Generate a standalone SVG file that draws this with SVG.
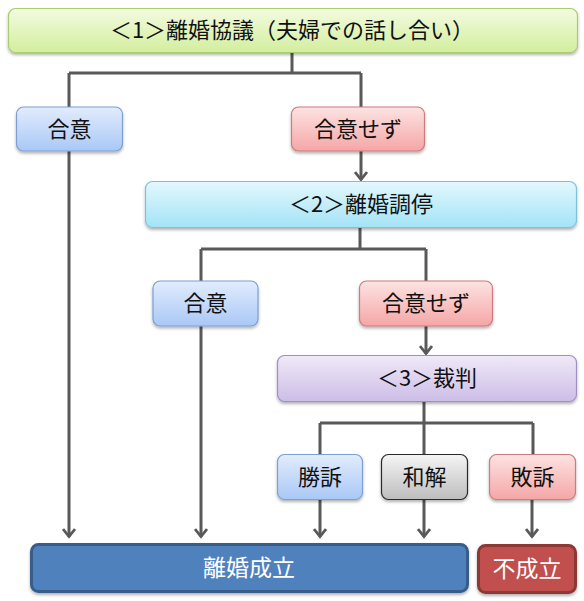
<svg xmlns="http://www.w3.org/2000/svg" width="584" height="601" viewBox="0 0 584 601">
<style>
text{font-family:"Noto Sans CJK JP","Noto Sans",sans-serif;font-size:22px;text-anchor:middle;fill:#111}
.w{fill:#fff;font-size:23px}
.box{stroke-width:1.2}
.conn{fill:none;stroke:#595959;stroke-width:3}
</style>
<defs>
<filter id="sh" x="-10%" y="-20%" width="120%" height="150%">
<feDropShadow dx="0" dy="2" stdDeviation="1.5" flood-color="#000" flood-opacity="0.3"/>
</filter>
<linearGradient id="gGreen" x1="0" y1="0" x2="0" y2="1"><stop offset="0" stop-color="#f3fbe0"/><stop offset="1" stop-color="#d3ee9e"/></linearGradient>
<linearGradient id="gBlue" x1="0" y1="0" x2="0" y2="1"><stop offset="0" stop-color="#e2ecfd"/><stop offset="1" stop-color="#a9c8f6"/></linearGradient>
<linearGradient id="gRed" x1="0" y1="0" x2="0" y2="1"><stop offset="0" stop-color="#fde3e3"/><stop offset="1" stop-color="#f5a6a6"/></linearGradient>
<linearGradient id="gCyan" x1="0" y1="0" x2="0" y2="1"><stop offset="0" stop-color="#e3f8fd"/><stop offset="1" stop-color="#a3e3f6"/></linearGradient>
<linearGradient id="gPurple" x1="0" y1="0" x2="0" y2="1"><stop offset="0" stop-color="#f0e9f7"/><stop offset="1" stop-color="#cdbde7"/></linearGradient>
<linearGradient id="gGray" x1="0" y1="0" x2="0" y2="1"><stop offset="0" stop-color="#f5f5f5"/><stop offset="1" stop-color="#bdbdbd"/></linearGradient>
<marker id="arr" viewBox="0 0 11 14" refX="9.5" refY="7" markerWidth="11" markerHeight="14" markerUnits="userSpaceOnUse" orient="auto">
<path d="M1.5,1 L9,7 L1.5,13" fill="none" stroke="#595959" stroke-width="2.8"/>
</marker>
</defs>

<g id="connectors" class="conn">
<path d="M292,53 V73 M69,73 H361 M69,73 V107 M361,73 V107"/>
<path d="M69,151 V537" marker-end="url(#arr)"/>
<path d="M361,151 V180" marker-end="url(#arr)"/>
<path d="M360,228 V249 M201,249 H426 M201,249 V281 M426,249 V281"/>
<path d="M201,326 V537" marker-end="url(#arr)"/>
<path d="M426,326 V354" marker-end="url(#arr)"/>
<path d="M424,401 V455 M320,423 H533 M320,423 V455 M533,423 V455"/>
<path d="M320,500 V537" marker-end="url(#arr)"/>
<path d="M424,500 V537" marker-end="url(#arr)"/>
<path d="M532,500 V537" marker-end="url(#arr)"/>
</g>

<g id="n1"><rect class="box" x="8.5" y="8.5" width="569" height="44" rx="7" fill="url(#gGreen)" stroke="#a9cc6e" filter="url(#sh)"/><text x="292" y="38">＜1＞離婚協議（夫婦での話し合い）</text></g>
<g id="n2"><rect class="box" x="16.5" y="107" width="106" height="44" rx="7" fill="url(#gBlue)" stroke="#7d9fd3" filter="url(#sh)"/><text x="69.5" y="137">合意</text></g>
<g id="n3"><rect class="box" x="291.5" y="107" width="133" height="44" rx="7" fill="url(#gRed)" stroke="#cc7b7b" filter="url(#sh)"/><text x="358" y="137">合意せず</text></g>
<g id="n4"><rect class="box" x="145.5" y="181.5" width="431" height="46" rx="7" fill="url(#gCyan)" stroke="#7cc3da" filter="url(#sh)"/><text x="361" y="212">＜2＞離婚調停</text></g>
<g id="n5"><rect class="box" x="153" y="281" width="105" height="45" rx="7" fill="url(#gBlue)" stroke="#7d9fd3" filter="url(#sh)"/><text x="205.5" y="311">合意</text></g>
<g id="n6"><rect class="box" x="359.5" y="281" width="133" height="45" rx="7" fill="url(#gRed)" stroke="#cc7b7b" filter="url(#sh)"/><text x="426" y="311">合意せず</text></g>
<g id="n7"><rect class="box" x="277.5" y="355.5" width="299" height="46" rx="7" fill="url(#gPurple)" stroke="#a190c4" filter="url(#sh)"/><text x="427" y="386">＜3＞裁判</text></g>
<g id="n8"><rect class="box" x="277.5" y="454.5" width="85" height="45" rx="7" fill="url(#gBlue)" stroke="#7d9fd3" filter="url(#sh)"/><text x="320" y="485">勝訴</text></g>
<g id="n9"><rect class="box" x="381.5" y="454.5" width="86" height="45" rx="7" fill="url(#gGray)" stroke="#2b2b2b" filter="url(#sh)"/><text x="424.5" y="485">和解</text></g>
<g id="n10"><rect class="box" x="489.5" y="454.5" width="86" height="45" rx="7" fill="url(#gRed)" stroke="#cc7b7b" filter="url(#sh)"/><text x="532.5" y="485">敗訴</text></g>
<g id="n11"><rect x="31.5" y="544.5" width="436" height="47" rx="7" fill="#4f81bd" stroke="#385d8a" stroke-width="3" filter="url(#sh)"/><text class="w" x="249" y="576">離婚成立</text></g>
<g id="n12"><rect x="478.5" y="545.5" width="97" height="47" rx="7" fill="#c0504d" stroke="#8c3836" stroke-width="3" filter="url(#sh)"/><text class="w" x="527" y="577">不成立</text></g>
</svg>
